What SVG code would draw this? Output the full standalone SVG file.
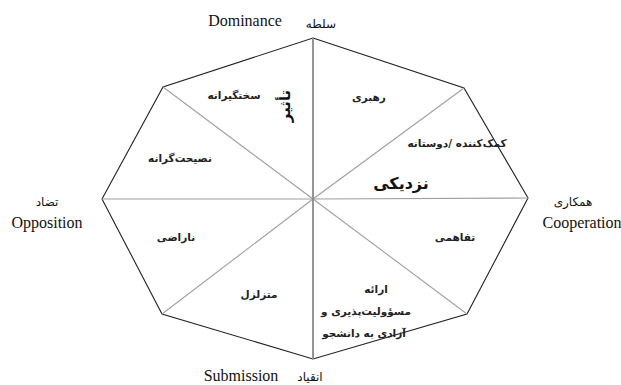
<svg xmlns="http://www.w3.org/2000/svg" width="621" height="385" viewBox="0 0 621 385">
<style>
.bg{fill:#ffffff}
.edge{fill:none;stroke:#222;stroke-width:1.1}
.spoke{fill:none;stroke:#a0a0a0;stroke-width:1.1}
.vspoke{fill:none;stroke:#8a8a8a;stroke-width:1.8}
.en{font-family:"Liberation Serif","Times New Roman",serif;font-size:16px;fill:#111}
.fa{font-family:"DejaVu Sans","Noto Sans",sans-serif;font-size:10.5px;fill:#222;font-weight:bold}
.fax{font-family:"DejaVu Sans","Noto Sans",sans-serif;font-size:12px;fill:#111}
.fab{font-family:"DejaVu Sans","Noto Sans",sans-serif;font-size:16px;fill:#111;font-weight:bold}
text{text-anchor:middle}
</style>
<rect class="bg" x="0" y="0" width="621" height="385"/>
<g id="connectors">
<polygon class="edge" points="313,38 464,88 528,198 467,314 313,359 162,314 102,199 163,87"/>
<line class="spoke" x1="313" y1="199" x2="464" y2="88"/>
<line class="spoke" x1="313" y1="199" x2="528" y2="198"/>
<line class="spoke" x1="313" y1="199" x2="467" y2="314"/>
<line class="spoke" x1="313" y1="199" x2="162" y2="314"/>
<line class="spoke" x1="313" y1="199" x2="102" y2="199"/>
<line class="spoke" x1="313" y1="199" x2="163" y2="87"/>
<line class="vspoke" x1="313" y1="38" x2="313" y2="359"/>
</g>
<g id="axis-dominance">
<text class="en" x="245" y="26">Dominance</text>
<text class="fax" x="321" y="28">سلطه</text>
</g>
<g id="axis-opposition">
<text class="fax" x="47" y="206">تضاد</text>
<text class="en" x="47" y="228">Opposition</text>
</g>
<g id="axis-cooperation">
<text class="fax" x="573" y="206">همکاری</text>
<text class="en" x="582" y="228">Cooperation</text>
</g>
<g id="axis-submission">
<text class="en" x="241" y="381">Submission</text>
<text class="fax" x="310" y="381">انقیاد</text>
</g>
<g id="axis-influence">
<text class="fab" transform="translate(284,106) rotate(-90)" y="6" style="font-size:15px">تأثیر</text>
</g>
<g id="axis-proximity">
<text class="fab" x="401" y="189">نزدیکی</text>
</g>
<g id="s-strict"><text class="fa" x="234" y="99">سختگیرانه</text></g>
<g id="s-leadership"><text class="fa" x="369" y="101">رهبری</text></g>
<g id="s-helpful"><text class="fa" x="457" y="147">کمک‌کننده /دوستانه</text></g>
<g id="s-admonishing"><text class="fa" x="180" y="162">نصیحت‌گرانه</text></g>
<g id="s-dissatisfied"><text class="fa" x="176" y="241">ناراضی</text></g>
<g id="s-understanding"><text class="fa" x="455" y="241">تفاهمی</text></g>
<g id="s-uncertain"><text class="fa" x="259" y="298">متزلزل</text></g>
<g id="s-freedom">
<text class="fa" x="376" y="293">ارائه</text>
<text class="fa" x="366" y="315">مسؤولیت‌پذیری و</text>
<text class="fa" x="364" y="337">آزادی به دانشجو</text>
</g>
</svg>
